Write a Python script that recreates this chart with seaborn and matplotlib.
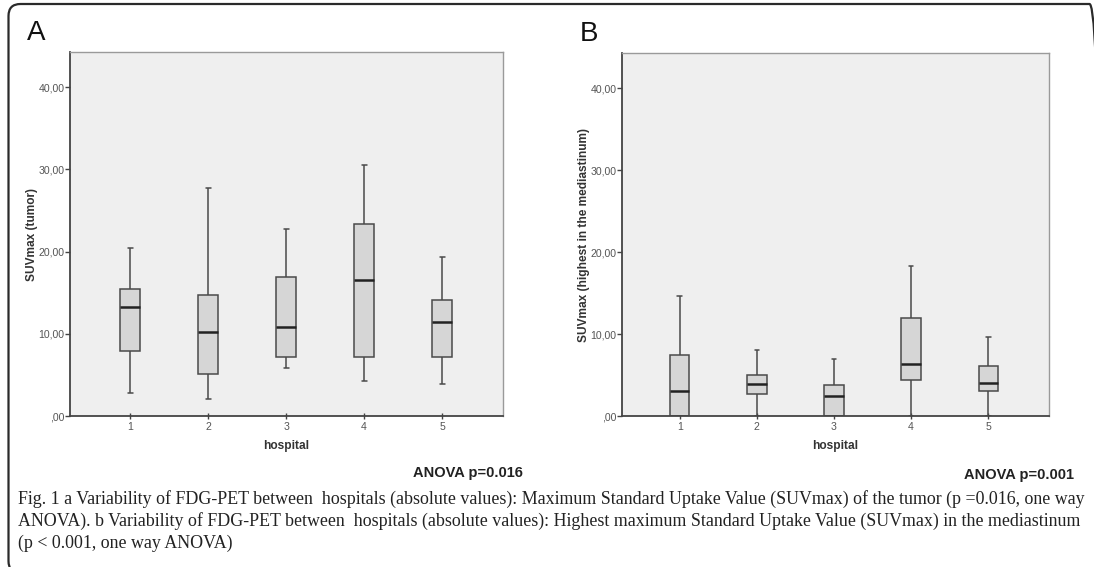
import pandas as pd
import numpy as np
import matplotlib
matplotlib.use("Agg")
import matplotlib.pyplot as plt
from matplotlib.patches import FancyBboxPatch
from matplotlib.ticker import FuncFormatter
import seaborn as sns

# five-number summaries (lower whisker, Q1, median, Q3, upper whisker)
hospitals = ["1", "2", "3", "4", "5"]

tumor_low = [2.8, 2.1, 5.8, 4.3, 3.9]
tumor_q1 = [7.9, 5.1, 7.2, 7.2, 7.2]
tumor_med = [13.3, 10.2, 10.8, 16.5, 11.4]
tumor_q3 = [15.4, 14.7, 16.9, 23.4, 14.1]
tumor_high = [20.5, 27.8, 22.8, 30.5, 19.3]

med_low = [0.0, 0.0, 0.0, 0.0, 0.0]
med_q1 = [0.0, 2.7, 0.0, 4.4, 3.0]
med_med = [3.0, 3.9, 2.4, 6.3, 4.0]
med_q3 = [7.5, 5.0, 3.8, 12.0, 6.1]
med_high = [14.6, 8.05, 7.0, 18.3, 9.6]

y_ticks = [0, 10, 20, 30, 40]


def summary_frame(low, q1, med, q3, high):
    # five points per hospital give exactly these quartiles and whisker ends
    rows = []
    for i, h in enumerate(hospitals):
        for v in [low[i], q1[i], med[i], q3[i], high[i]]:
            rows.append({"hospital": h, "value": v})
    return pd.DataFrame(rows)


tumor_df = summary_frame(tumor_low, tumor_q1, tumor_med, tumor_q3, tumor_high)
mediast_df = summary_frame(med_low, med_q1, med_med, med_q3, med_high)

sns.set_style("white")
plt.rcParams["font.family"] = ["Liberation Sans", "DejaVu Sans"]

fig = plt.figure(figsize=(10.94, 5.67), dpi=100)
axA = fig.add_axes([0.064, 0.2663, 0.3958, 0.642])
axB = fig.add_axes([0.5686, 0.2663, 0.3903, 0.640])


def comma_fmt(v, pos):
    s = f"{v:.2f}".replace(".", ",")
    if s.startswith("0,"):
        s = s[1:]
    return s


def draw_panel(ax, df, ylabel, xlim):
    sns.boxplot(data=df, x="hospital", y="value", order=hospitals, ax=ax,
                width=0.25, whis=(0, 100), color="#d6d6d6", saturation=1,
                linecolor="#4a4a4a", linewidth=1.1, fliersize=0,
                medianprops={"color": "#222222", "linewidth": 1.8})
    # shorten the whisker caps to half the box width
    for line in ax.lines:
        xd = np.asarray(line.get_xdata(), dtype=float)
        yd = np.asarray(line.get_ydata(), dtype=float)
        if len(xd) == 2 and yd[0] == yd[1] and abs(xd[1] - xd[0]) > 0.01:
            c = xd.mean()
            half = (xd[1] - xd[0]) / 2
            if line.get_linewidth() < 1.5:
                line.set_xdata([c - half * 0.5, c + half * 0.5])
    ax.set_facecolor("#efefef")
    ax.set_ylim(0, 44.3)
    ax.set_xlim(*xlim)
    ax.set_yticks(y_ticks)
    ax.yaxis.set_major_formatter(FuncFormatter(comma_fmt))
    ax.set_xlabel("hospital", fontsize=8.6, fontweight="bold", color="#333333", labelpad=6)
    ax.set_ylabel(ylabel, fontsize=8.6, fontweight="bold", color="#333333", labelpad=0)
    ax.tick_params(axis="y", which="major", left=True, direction="out", length=3.5,
                   width=1, color="#444444", labelsize=7.6, labelcolor="#555555", pad=0.5)
    ax.tick_params(axis="x", which="major", bottom=True, direction="inout", length=4,
                   width=1, color="#444444", labelsize=7.6, labelcolor="#555555", pad=2)
    for side in ["top", "right"]:
        ax.spines[side].set_color("#9a9a9a")
        ax.spines[side].set_linewidth(1.0)
    for side in ["left", "bottom"]:
        ax.spines[side].set_color("#444444")
        ax.spines[side].set_linewidth(1.3)


draw_panel(axA, tumor_df, "SUVmax (tumor)", (-0.77, 4.78))
draw_panel(axB, mediast_df, "SUVmax (highest in the mediastinum)", (-0.75, 4.79))

# panel letters
fig.text(27 / 1094, 1 - 33 / 567, "A", fontsize=20, va="center", ha="left", color="#111111")
fig.text(580 / 1094, 1 - 34 / 567, "B", fontsize=20, va="center", ha="left", color="#111111")

# ANOVA notes
fig.text(468 / 1094, 1 - 473 / 567, "ANOVA p=0.016", fontsize=10.5, fontweight="bold",
         ha="center", va="center", color="#222222")
fig.text(1019 / 1094, 1 - 475 / 567, "ANOVA p=0.001", fontsize=10.5, fontweight="bold",
         ha="center", va="center", color="#222222")

# caption
caption = [
    "Fig. 1 a Variability of FDG-PET between  hospitals (absolute values): Maximum Standard Uptake Value (SUVmax) of the tumor (p =0.016, one way",
    "ANOVA). b Variability of FDG-PET between  hospitals (absolute values): Highest maximum Standard Uptake Value (SUVmax) in the mediastinum",
    "(p < 0.001, one way ANOVA)",
]
for i, line in enumerate(caption):
    fig.text(18 / 1094, 1 - (499 + 22 * i) / 567, line, fontsize=12.85,
             family=["Liberation Serif", "DejaVu Serif"], ha="left", va="center",
             color="#222222")

# rounded frame, only left and top edges visible
frame = FancyBboxPatch((0.085, -0.06), 10.93, 5.69,
                       boxstyle="round,pad=0,rounding_size=0.12",
                       transform=fig.dpi_scale_trans, fill=False,
                       edgecolor="#2a2a2a", linewidth=1.6)
fig.add_artist(frame)

fig.savefig("out.png", dpi=100)
